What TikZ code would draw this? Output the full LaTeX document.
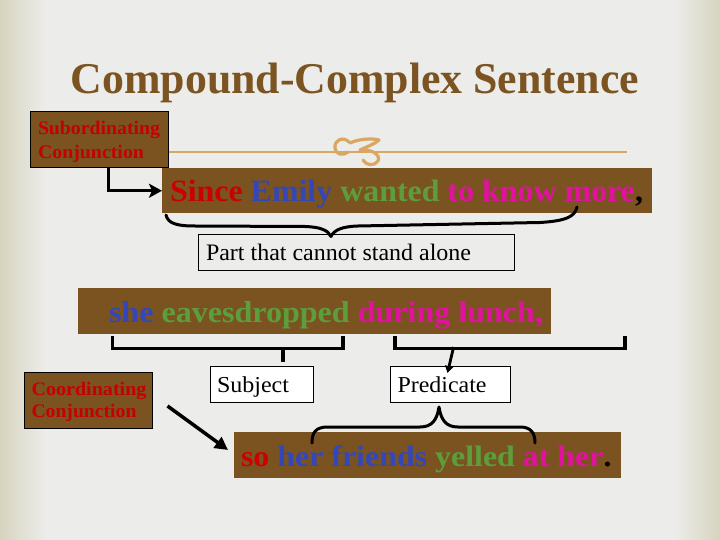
\documentclass[tikz,border=0pt]{standalone}
\usepackage{fontspec}
\setmainfont{Liberation Serif}
\usepackage{graphicx}
\usetikzlibrary{arrows.meta}
\definecolor{bg}{HTML}{ECECEA}
\definecolor{bgedge}{HTML}{D6D4BE}
\definecolor{brn}{HTML}{7A5321}
\definecolor{tbrn}{HTML}{7B5422}
\definecolor{cred}{HTML}{CC0000}
\definecolor{lred}{HTML}{C40000}
\definecolor{cblue}{HTML}{3447B8}
\definecolor{cgreen}{HTML}{5C9E3C}
\definecolor{cmag}{HTML}{E0129E}
\definecolor{orn}{HTML}{D9A762}
\tikzset{
  brownbox/.style={fill=brn, draw=none, inner sep=0pt, outer sep=0pt, anchor=north west},
  labbox/.style={fill=brn, draw=black, line width=0.9pt, inner sep=0pt, outer sep=0pt, anchor=north west},
  whitebox/.style={fill=white, draw=black, line width=0.9pt, inner sep=0pt, outer sep=0pt, anchor=north west},
  clearbox/.style={draw=black, line width=0.9pt, inner sep=0pt, outer sep=0pt, anchor=north west},
  txt/.style={anchor=base west, inner sep=0pt, outer sep=0pt},
  bigarrow/.style={line width=3pt, -{Stealth[length=13pt,width=14pt,inset=3pt]}},
  bracestroke/.style={line width=3pt, line cap=round, line join=round},
  bracket/.style={line width=3.5pt},
  ornstroke/.style={orn, line width=3.2pt, line cap=round, line join=round},
}
\begin{document}
\begin{tikzpicture}[x=1pt,y=-1pt]
\useasboundingbox (0,0) rectangle (720,540);
% background
\fill[bg] (0,0) rectangle (720,540);
\shade[left color=bgedge, right color=bg] (0,0) rectangle (45,540);
\shade[left color=bg, right color=bgedge] (675,0) rectangle (720,540);

% title
\node[txt, anchor=base] (title) at (355,94) {\resizebox{568pt}{30.5pt}{\bfseries\color{tbrn}Compound-Complex Sentence}};

% ornament line
\draw[orn, line width=1.6pt] (168,151.8) -- (627,151.8);
\draw[ornstroke]
  (349,142) .. controls (343,136) and (334,140) .. (335,148)
  .. controls (336,155) and (343,156) .. (348,152);
\draw[ornstroke]
  (350,143) .. controls (358,139) and (372,138) .. (379,140)
  .. controls (375,144) and (366,147) .. (360,150)
  .. controls (372,149) and (381,155) .. (378,161)
  .. controls (375,166) and (366,166) .. (363,160);

% subordinating conjunction
\node[labbox, minimum width=138pt, minimum height=56.5pt] (sub) at (30,111) {};
\node[txt] (subA) at (38,135) {\resizebox{122pt}{13.3pt}{\bfseries\color{lred}Subordinating}};
\node[txt] (subB) at (38,158.5) {\resizebox{106pt}{13.3pt}{\bfseries\color{lred}Conjunction}};

% sentence 1
\node[brownbox, minimum width=490pt, minimum height=45.5pt] (s1box) at (162,168) {};
\node[txt] (s1txt) at (170,201.5) {\resizebox{473pt}{21.5pt}{\bfseries\color{cred}Since \color{cblue}Emily \color{cgreen}wanted \color{cmag}to know more\color{black},}};
\draw[bigarrow] ([xshift=9pt]sub.south) |- (s1box.west);

% brace 1
\draw[bracestroke]
  (166,215) .. controls (168,224) and (178,226) .. (195,226)
  -- (305,226.5) .. controls (320,227) and (328,230) .. (331,236.5)
  .. controls (334,230) and (342,226.5) .. (358,226)
  -- (540,222.5) .. controls (565,221) and (575,217) .. (577,207);

% part that cannot stand alone
\node[clearbox, minimum width=316pt, minimum height=36pt] (part) at (198,234) {};
\node[txt] (parttxt) at (206,260.7) {\resizebox{265pt}{16.4pt}{Part that cannot stand alone}};

% sentence 2
\node[brownbox, minimum width=473pt, minimum height=46pt] (s2box) at (78,288) {};
\node[txt] (s2txt) at (109,322) {\resizebox{434pt}{21pt}{\bfseries\color{cblue}she \color{cgreen}eavesdropped \color{cmag}during lunch,}};

% brackets
\draw[bracket] (112.5,336) -- (112.5,348.5) -- (343,348.5) -- (343,336);
\draw[bracket] (283,348.5) -- (283,361.6);
\draw[bracket] (395,336) -- (395,348.5) -- (625,348.5) -- (625,336);

% subject / predicate
\node[whitebox, minimum width=103pt, minimum height=36pt] (subj) at (210,366) {};
\node[txt] (subjtxt) at (217,392.6) {\resizebox{72pt}{15.8pt}{Subject}};
\node[whitebox, minimum width=120.5pt, minimum height=36pt] (pred) at (390,366) {};
\node[txt] (predtxt) at (397.5,392.6) {\resizebox{89pt}{15.8pt}{Predicate}};
\coordinate (pstem) at (453.6,347);
\coordinate (ptip) at (447.5,373);
\draw[line width=2.8pt, -{Triangle[length=7pt,width=8pt]}] (pstem) -- (ptip);

% coordinating conjunction
\node[labbox, minimum width=128.5pt, minimum height=56pt] (coord) at (24,372) {};
\node[txt] (coordA) at (31.5,395) {\resizebox{115pt}{13.3pt}{\bfseries\color{lred}Coordinating}};
\node[txt] (coordB) at (31.5,417.5) {\resizebox{105pt}{13.3pt}{\bfseries\color{lred}Conjunction}};

% sentence 3
\node[brownbox, minimum width=387pt, minimum height=46pt] (s3box) at (234,432) {};
\node[txt] (s3txt) at (241,466.6) {\resizebox{370.5pt}{20.8pt}{\bfseries\color{cred}so \color{cblue}her friends \color{cgreen}yelled \color{cmag}at her\color{black}.}};
\coordinate (a2s) at (167.5,406);
\coordinate (a2e) at (228,450);
\draw[line width=3.5pt, -{Triangle[length=13pt,width=13pt]}] (a2s) -- (a2e);

% brace 3
\draw[bracestroke]
  (312,443) .. controls (312,432) and (316,427) .. (328,427)
  -- (420,427) .. controls (432,427) and (437,420) .. (439,407)
  .. controls (441,420) and (446,427) .. (458,427)
  -- (520,427) .. controls (531,427) and (535,433) .. (535,443);
\end{tikzpicture}
\end{document}
